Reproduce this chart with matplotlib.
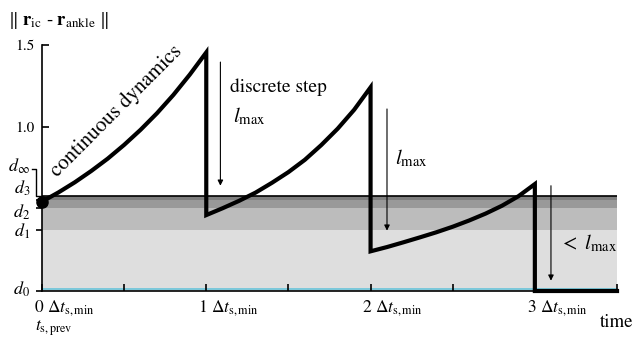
import numpy as np
import matplotlib
matplotlib.use("Agg")
import matplotlib.pyplot as plt

plt.rcParams['font.family'] = ['STIXGeneral', 'DejaVu Serif']
plt.rcParams['mathtext.fontset'] = 'stix'

# distance between instantaneous capture point and ankle over time
seg1_t = [0.0, 0.1, 0.2, 0.3, 0.4, 0.5, 0.6, 0.7, 0.8, 0.9, 1.0]
seg1_d = [0.545, 0.601, 0.663, 0.732, 0.807, 0.891, 0.983, 1.084, 1.196, 1.32, 1.455]
seg2_t = [1.0, 1.1, 1.2, 1.3, 1.4, 1.5, 1.6, 1.7, 1.8, 1.9, 2.0]
seg2_d = [0.463, 0.505, 0.55, 0.60, 0.66, 0.725, 0.80, 0.89, 0.99, 1.105, 1.242]
seg3_t = [2.0, 2.1, 2.2, 2.3, 2.4, 2.5, 2.6, 2.7, 2.8, 2.9, 3.0]
seg3_d = [0.242, 0.268, 0.297, 0.327, 0.358, 0.392, 0.43, 0.472, 0.52, 0.578, 0.652]
tail_t = [3.0, 3.0, 3.5]
tail_d = [0.652, 0.0, 0.0]

# threshold levels d0 .. d3 and d_inf
d_levels = [0.0, 0.372, 0.506, 0.555, 0.578]
d_names = [r'$d_{\mathit{0}}$', r'$d_{\mathit{1}}$', r'$d_{\mathit{2}}$',
           r'$d_{\mathit{3}}$', r'$d_{\infty}$']
band_colors = ['#dedede', '#bcbcbc', '#999999', '#7e7e7e']

xtick_steps = [0, 1, 2, 3]

t = seg1_t + seg2_t + seg3_t + tail_t
d = seg1_d + seg2_d + seg3_d + tail_d

fig = plt.figure(figsize=(6.34, 3.45), dpi=100)
ax = fig.add_axes([0.0662, 0.1565, 0.907, 0.713])
ax.set_xlim(0, 3.5)
ax.set_ylim(0, 1.5)

# shaded bands between the levels
for lo, hi, c in zip(d_levels[:-1], d_levels[1:], band_colors):
    ax.axhspan(lo, hi, color=c, lw=0, zorder=0)
ax.axhline(d_levels[-1], color='black', lw=1.2, zorder=1)
ax.axhline(0.012, color='#72c6da', lw=1.3, zorder=1)

ax.plot(t, d, color='black', lw=3, solid_joinstyle='miter', clip_on=False, zorder=3)
ax.plot(seg1_t[0], seg1_d[0], 'o', color='black', ms=8, clip_on=False, zorder=4)

# spines and ticks
for s in ['top', 'right']:
    ax.spines[s].set_visible(False)
for s in ['left', 'bottom']:
    ax.spines[s].set_linewidth(1.2)
ax.set_xticks(np.arange(0, 3.51, 0.5), labels=[''] * 8)
ax.tick_params(axis='x', direction='in', length=5, width=1.2)
ax.set_yticks([1.0, 1.5], labels=['1.0', '1.5'])
ax.tick_params(axis='y', direction='in', length=5, width=1.2, labelsize=11, pad=5)
ax.set_yticks(d_levels[:4], minor=True)
ax.tick_params(axis='y', which='minor', direction='out', length=4.5, width=1.2)

# bracket for d_inf
yt = ax.get_yaxis_transform()
ax.plot([-0.018, -0.0104, -0.0104, 0], [0.745, 0.745, d_levels[-1], d_levels[-1]],
        color='black', lw=1, transform=yt, clip_on=False)

label_y = [-0.02, 0.33, 0.448, 0.592, 0.728]
for name, ly in zip(d_names, label_y):
    ax.text(-0.021, ly, name, transform=yt, ha='right', va='baseline', fontsize=13)

# x tick labels
xt = ax.get_xaxis_transform()
for k in xtick_steps:
    ax.text(k - 0.05, -0.07, r'%d $\Delta t_{\rm s,min}$' % k, transform=xt,
            ha='left', va='center', fontsize=12.5)
ax.text(-0.04, -0.15, r'$t_{\rm s,prev}$', transform=xt, ha='left', va='center',
        fontsize=12.5)
ax.text(0.970, -0.127, 'time', transform=ax.transAxes, ha='left', va='center',
        fontsize=13.5)

fig.text(0.012, 0.94, r'$\|\ \mathbf{r}_{\rm ic}$ - $\mathbf{r}_{\rm ankle}\ \|$',
         ha='left', va='center', fontsize=13.5)

# annotations
ax.text(0.455, 1.095, 'continuous dynamics', rotation=45, rotation_mode='anchor',
        ha='center', va='center', fontsize=15)

arrow = dict(arrowstyle='-|>', lw=0.8, color='black', mutation_scale=8,
             shrinkA=0, shrinkB=0)
ax.annotate('', xy=(1.086, 0.642), xytext=(1.086, 1.396), arrowprops=arrow)
ax.text(1.143, 1.213, 'discrete step', ha='left', va='baseline', fontsize=14)
ax.text(1.16, 1.03, r'$l_{\rm max}$', ha='left', va='baseline', fontsize=15)

ax.annotate('', xy=(2.10, 0.368), xytext=(2.10, 1.11), arrowprops=arrow)
ax.text(2.15, 0.77, r'$l_{\rm max}$', ha='left', va='baseline', fontsize=15)

ax.annotate('', xy=(3.098, 0.063), xytext=(3.098, 0.642), arrowprops=arrow)
ax.text(3.145, 0.256, r'$<\ l_{\rm max}$', ha='left', va='baseline', fontsize=15)

fig.savefig('out.png', dpi=100)
